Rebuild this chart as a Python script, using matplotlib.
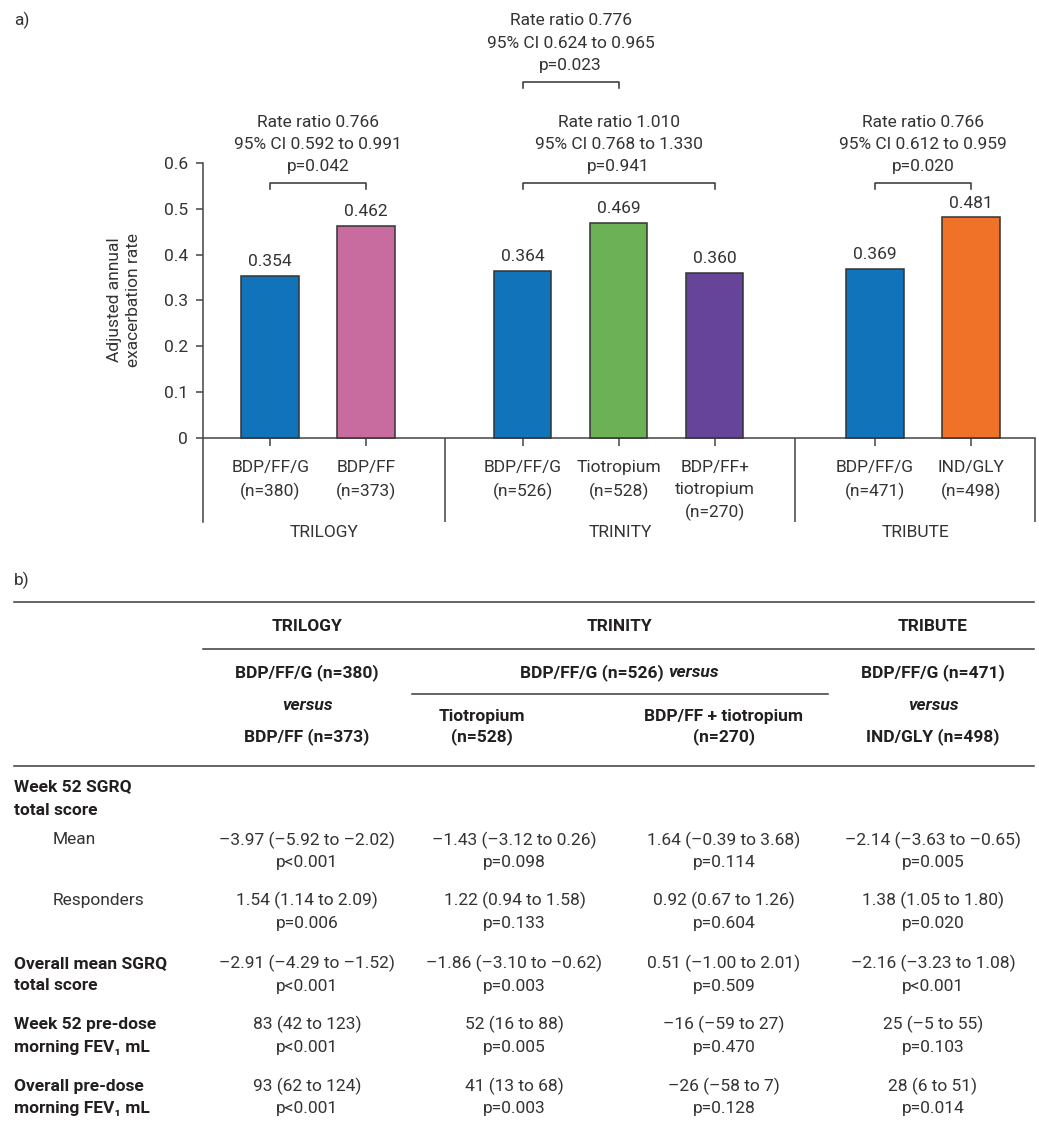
import matplotlib
matplotlib.use('Agg')
import matplotlib.pyplot as plt
from matplotlib.lines import Line2D

plt.rcParams['font.family'] = ['Roboto', 'DejaVu Sans']
plt.rcParams['font.size'] = 12.5

TXT = '#333333'
DARK = '#231f20'
RULE = '#3a3a3a'

# ---- a) exacerbation rates
groups = ['TRILOGY', 'TRINITY', 'TRIBUTE']
bar_labels = ['BDP/FF/G\n(n=380)', 'BDP/FF\n(n=373)',
              'BDP/FF/G\n(n=526)', 'Tiotropium\n(n=528)', 'BDP/FF+\ntiotropium\n(n=270)',
              'BDP/FF/G\n(n=471)', 'IND/GLY\n(n=498)']
rates = [0.354, 0.462, 0.364, 0.469, 0.360, 0.369, 0.481]
bar_colors = ['#1174bb', '#c86b9e', '#1174bb', '#6db156', '#654499', '#1174bb', '#f07229']
ratio_pairs = [(0, 1), (2, 4), (2, 3), (5, 6)]
ratio_texts = ['Rate ratio 0.766\n95% CI 0.592 to 0.991\np=0.042',
               'Rate ratio 1.010\n95% CI 0.768 to 1.330\np=0.941',
               'Rate ratio 0.776\n95% CI 0.624 to 0.965\np=0.023',
               'Rate ratio 0.766\n95% CI 0.612 to 0.959\np=0.020']

# ---- b) table
table_groups = ['TRILOGY', 'TRINITY', 'TRIBUTE']
row_labels = ['Mean', 'Responders', 'Overall mean SGRQ\ntotal score',
              'Week 52 pre-dose\nmorning FEV\u2081 mL', 'Overall pre-dose\nmorning FEV\u2081 mL']
trilogy_est = ['\u20133.97 (\u20135.92 to \u20132.02)', '1.54 (1.14 to 2.09)',
               '\u20132.91 (\u20134.29 to \u20131.52)', '83 (42 to 123)', '93 (62 to 124)']
trilogy_p = ['p<0.001', 'p=0.006', 'p<0.001', 'p<0.001', 'p<0.001']
tio_est = ['\u20131.43 (\u20133.12 to 0.26)', '1.22 (0.94 to 1.58)',
           '\u20131.86 (\u20133.10 to \u20130.62)', '52 (16 to 88)', '41 (13 to 68)']
tio_p = ['p=0.098', 'p=0.133', 'p=0.003', 'p=0.005', 'p=0.003']
bdpff_tio_est = ['1.64 (\u20130.39 to 3.68)', '0.92 (0.67 to 1.26)',
                 '0.51 (\u20131.00 to 2.01)', '\u201316 (\u201359 to 27)', '\u201326 (\u201358 to 7)']
bdpff_tio_p = ['p=0.114', 'p=0.604', 'p=0.509', 'p=0.470', 'p=0.128']
tribute_est = ['\u20132.14 (\u20133.63 to \u20130.65)', '1.38 (1.05 to 1.80)',
               '\u20132.16 (\u20133.23 to 1.08)', '25 (\u20135 to 55)', '28 (6 to 51)']
tribute_p = ['p=0.005', 'p=0.020', 'p<0.001', 'p=0.103', 'p=0.014']

W, H = 1039, 1130
fig = plt.figure(figsize=(W / 100, H / 100), dpi=100)


def fx(x):
    return x / W


def fy(y):
    return 1 - y / H


# ---------------- chart a)
ax = fig.add_axes([fx(203), fy(522), (1035 - 203) / W, (522 - 163) / H])
xpos = [0.7, 1.7, 3.33, 4.33, 5.33, 7.0, 8.0]
seps = [2.52, 6.17, 8.667]
group_mid = [1.26, 4.345, 7.42]
ymin = -0.184

ax.bar(xpos, rates, width=0.6, color=bar_colors, edgecolor='#333333', linewidth=1.1, zorder=3)
for x, v in zip(xpos, rates):
    ax.annotate('{:.3f}'.format(v), (x, v), xytext=(0, 5), textcoords='offset points',
                ha='center', va='bottom', color=TXT)

ax.set_xlim(0, 8.667)
ax.set_ylim(ymin, 0.6)
for s in ['top', 'right']:
    ax.spines[s].set_visible(False)
ax.spines['bottom'].set_position(('data', 0))
for s in ['left', 'bottom']:
    ax.spines[s].set_color('#444444')
    ax.spines[s].set_linewidth(1.1)
ax.set_yticks([0, 0.1, 0.2, 0.3, 0.4, 0.5, 0.6], ['0', '0.1', '0.2', '0.3', '0.4', '0.5', '0.6'])
ax.set_xticks(xpos, bar_labels)
ax.tick_params(axis='y', length=5, width=1.1, color='#444444', pad=6, labelcolor=TXT)
ax.tick_params(axis='x', length=6, width=1.1, color='#444444', pad=10, labelcolor=TXT)
for t in ax.get_xticklabels():
    t.set_linespacing(1.55)
ax.vlines(seps, ymin, 0, color='#444444', lw=1.1, clip_on=False)

for name, m in zip(groups, group_mid):
    ax.text(m, -0.208, name, ha='center', va='center', color=TXT)

ax.text(-0.095, 0.618, 'Adjusted annual\nexacerbation rate', transform=ax.transAxes,
        rotation=90, ha='center', va='center', color=TXT, linespacing=1.4)

ratio_level = [0, 0, 1, 0]
for (i, j), txt, lev in zip(ratio_pairs, ratio_texts, ratio_level):
    yb = 0.556 if lev == 0 else 0.777
    ax.plot([xpos[i], xpos[i], xpos[j], xpos[j]], [yb - 0.0135, yb, yb, yb - 0.0135],
            color='#333333', lw=1.1, clip_on=False)
    ax.text((xpos[i] + xpos[j]) / 2, yb + 0.085, txt, ha='center', va='center',
            color=TXT, linespacing=1.6, clip_on=False)

fig.text(fx(14), fy(20), 'a)', ha='left', va='center', color=TXT)
fig.text(fx(14), fy(580), 'b)', ha='left', va='center', color=TXT)

# ---------------- table b)


def rule(x0, x1, y):
    fig.add_artist(Line2D([fx(x0), fx(x1)], [fy(y), fy(y)], color=RULE, lw=1.1))


def put(x, y, s, **kw):
    kw.setdefault('ha', 'center')
    kw.setdefault('color', TXT)
    kw.setdefault('va', 'center')
    return fig.text(fx(x), fy(y), s, **kw)


col_x = [307, 514.5, 724, 933]
head_x = [307, 619.5, 933]

rule(14, 1034, 601.7)
for name, x in zip(table_groups, head_x):
    put(x, 626.7, name, fontweight='bold', color=DARK)
rule(203, 1034, 649.3)
put(307, 672.7, 'BDP/FF/G (n=380)', fontweight='bold', color=DARK)
put(933, 672.7, 'BDP/FF/G (n=471)', fontweight='bold', color=DARK)

# mixed bold / bold italic header for TRINITY, on one baseline
r = fig.canvas.get_renderer()
t1 = put(0, 677.3, 'BDP/FF/G (n=526) ', ha='left', va='baseline', fontweight='bold', color=DARK)
t2 = put(0, 677.3, 'versus', ha='left', va='baseline', fontweight='bold', style='italic',
         color=DARK)
w1 = t1.get_window_extent(r).width
w2 = t2.get_window_extent(r).width
x0 = 619.5 - (w1 + w2) / 2
t1.set_x(fx(x0))
t2.set_x(fx(x0 + w1))

rule(412, 828, 694)
put(307, 705, 'versus', fontweight='bold', style='italic', color=DARK)
put(933, 705, 'versus', fontweight='bold', style='italic', color=DARK)
put(482, 716, 'Tiotropium', fontweight='bold', color=DARK)
put(482, 736.7, '(n=528)', fontweight='bold', color=DARK)
put(724, 716, 'BDP/FF + tiotropium', fontweight='bold', color=DARK)
put(724, 736.7, '(n=270)', fontweight='bold', color=DARK)
put(307, 736.7, 'BDP/FF (n=373)', fontweight='bold', color=DARK)
put(933, 736.7, 'IND/GLY (n=498)', fontweight='bold', color=DARK)
rule(14, 1034, 765.7)

put(14, 787, 'Week 52 SGRQ', ha='left', fontweight='bold', color=DARK)
put(14, 810.7, 'total score', ha='left', fontweight='bold', color=DARK)

row_y = [840, 900.7, 963.3, 1024.7, 1086]
dy = 22.7
columns = [(trilogy_est, trilogy_p), (tio_est, tio_p), (bdpff_tio_est, bdpff_tio_p),
           (tribute_est, tribute_p)]
for k, (lab, y) in enumerate(zip(row_labels, row_y)):
    lines = lab.split('\n')
    if k < 2:
        put(52.7, y, lines[0], ha='left')
    else:
        for n, ln in enumerate(lines):
            put(14, y + n * dy, ln, ha='left', fontweight='bold', color=DARK)
    for cx, (est, p) in zip(col_x, columns):
        put(cx, y, est[k])
        put(cx, y + dy, p[k])

fig.savefig('out.png', dpi=100)
